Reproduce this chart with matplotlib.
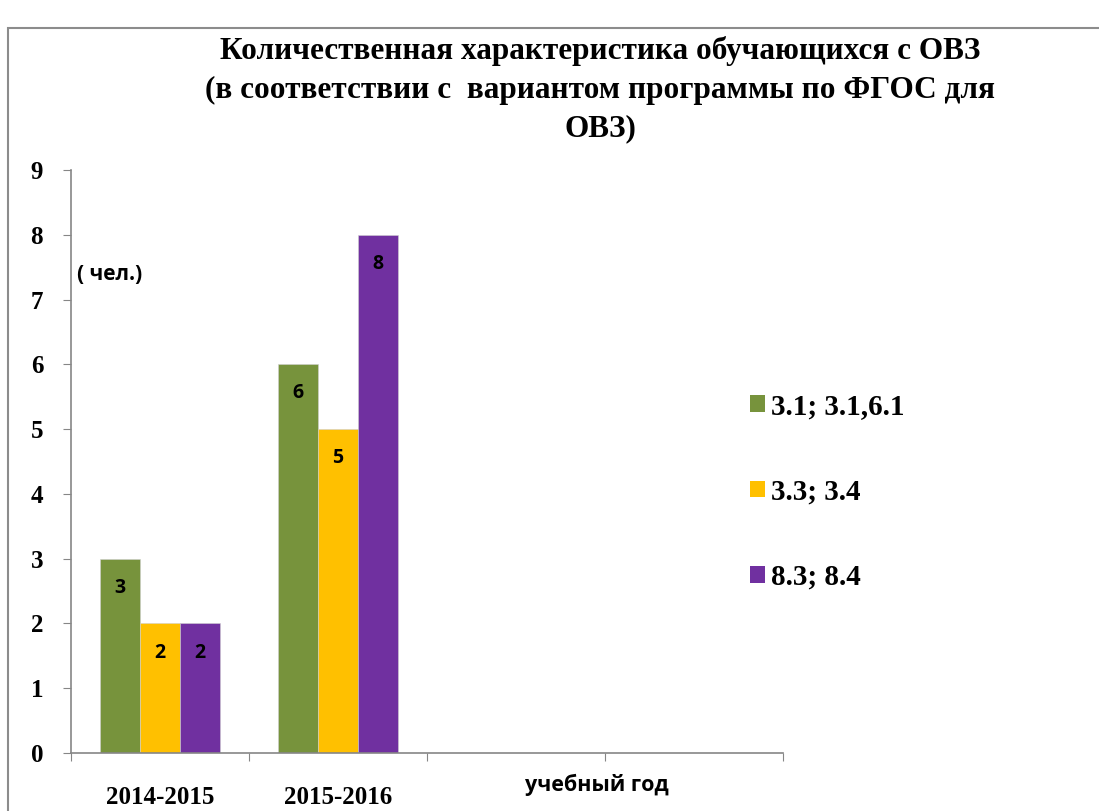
import matplotlib
matplotlib.use("Agg")
import matplotlib.pyplot as plt
from matplotlib.patches import Rectangle, Patch
import numpy as np

categories = ["2014-2015", "2015-2016", "", ""]
series_names = ["3.1; 3.1,6.1", "3.3; 3.4", "8.3; 8.4"]
values_31 = [3, 6]
values_33 = [2, 5]
values_83 = [2, 8]
yticks = list(range(0, 10))
title = "Количественная характеристика обучающихся с ОВЗ\n(в соответствии с  вариантом программы по ФГОС для\nОВЗ)"
unit_label = "( чел.)"
xaxis_label = "учебный год"

colors = ["#77933C", "#FFC000", "#7030A0"]
serif = "Liberation Serif"
sans = "Open Sans"

W, H = 1099, 811
fig = plt.figure(figsize=(W / 100, H / 100), dpi=100)
fig.patch.set_facecolor("white")

# outer chart border
fig.patches.append(Rectangle((8 / W, -0.1), 1.2, (H - 28) / H + 0.1,
                             transform=fig.transFigure, fill=False,
                             edgecolor="#8c8c8c", linewidth=1.5))

ax = fig.add_axes([71 / W, (H - 753) / H, (783 - 71) / W, (753 - 170) / H])
x = np.arange(len(values_31))
bw = 0.225
all_series = [values_31, values_33, values_83]
for i, (vals, col, name) in enumerate(zip(all_series, colors, series_names)):
    xs = x + (i - 1) * bw
    ax.bar(xs, vals, width=bw, color=col, edgecolor="#d0d0d0", linewidth=0.4, label=name)
    for xx, v in zip(xs, vals):
        ax.text(xx, v - 0.45, str(v), ha="center", va="center",
                fontsize=14, fontweight="bold", family=sans, color="black")

ax.set_xlim(-0.5, len(categories) - 0.5)
ax.set_ylim(0, 9)
ax.set_yticks(yticks)
ax.set_yticklabels([str(t) for t in yticks], fontsize=18, fontweight="bold", family=serif)
ax.set_xticks(np.arange(-0.5, len(categories)), minor=False)
ax.set_xticklabels([])
ax.set_xticks(np.arange(len(categories)), minor=True)
ax.set_xticklabels(categories, minor=True, fontsize=18, fontweight="bold", family=serif)
ax.tick_params(axis="x", which="minor", length=0, pad=24)
ax.tick_params(axis="x", which="major", length=6, color="#868686", direction="out")
ax.tick_params(axis="y", length=6, color="#868686", direction="out", pad=14)

for s in ["top", "right"]:
    ax.spines[s].set_visible(False)
for s in ["left", "bottom"]:
    ax.spines[s].set_color("#868686")
    ax.spines[s].set_linewidth(1.2)

ax.text((597 - 71) / 712, -32 / 583, xaxis_label, transform=ax.transAxes,
        ha="center", va="center", fontsize=15.5, fontweight="bold", family=sans)
ax.text((110 - 71) / 712, (753 - 275) / 583, unit_label, transform=ax.transAxes,
        ha="center", va="center", fontsize=15, fontweight="bold", family=sans)

fig.text(600 / W, 1 - 90 / H, title, ha="center", va="center", fontsize=22.5,
         fontweight="bold", family=serif, linespacing=1.43)

handles = [Patch(facecolor=c, edgecolor="none") for c in colors]
leg = fig.legend(handles, series_names, loc="center left",
                 bbox_to_anchor=(724 / W, 1 - 492 / H), frameon=False,
                 prop={"family": serif, "weight": "bold", "size": 21},
                 handlelength=0.5, handleheight=0.5, handletextpad=0.2,
                 labelspacing=2.0)

fig.savefig("out.png", dpi=100, facecolor="white")
